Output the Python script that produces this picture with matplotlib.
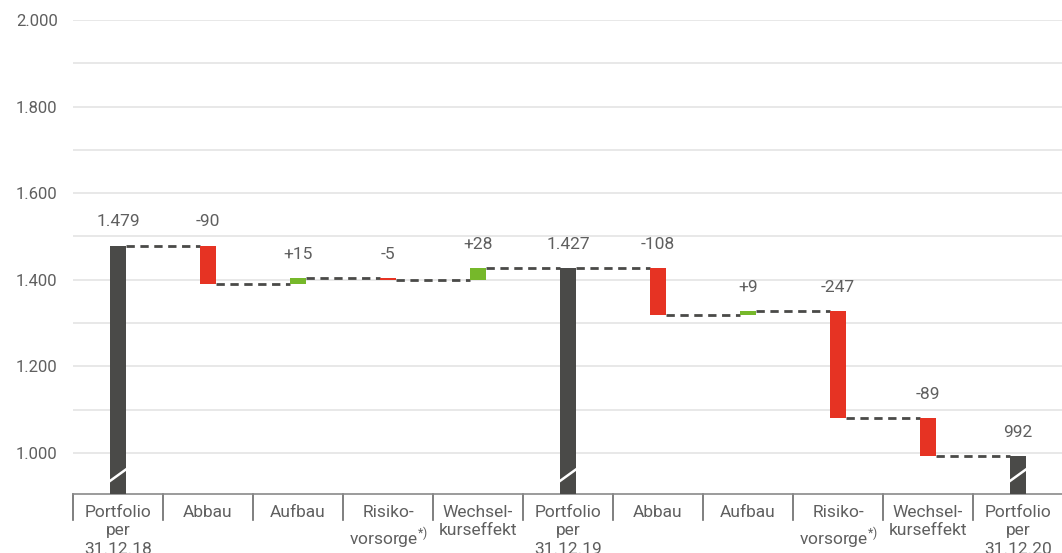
import matplotlib.pyplot as plt
import numpy as np

categories = ["Portfolio\nper\n31.12.18", "Abbau", "Aufbau", "Risiko-\nvorsorge$^{\\mathregular{*)}}$",
              "Wechsel-\nkurseffekt", "Portfolio\nper\n31.12.19", "Abbau", "Aufbau",
              "Risiko-\nvorsorge$^{\\mathregular{*)}}$", "Wechsel-\nkurseffekt", "Portfolio\nper\n31.12.20"]
values = [1479, -90, 15, -5, 28, 1427, -108, 9, -247, -89, 992]
is_total = [True, False, False, False, False, True, False, False, False, False, True]

plt.rcParams['font.family'] = ['Roboto', 'DejaVu Sans']
txt = '#5f5f5f'
dark = '#4a4a48'
red = '#e63323'
green = '#76b82a'

fig = plt.figure(figsize=(10.62, 5.53), dpi=100)
ax = fig.add_axes([73 / 1062, 1 - 494 / 553, 990 / 1062, 474 / 553])

ymin, ymax = 905, 2000
w = 0.18
x = np.arange(len(values))

bottoms, tops = [], []
level = 0
for v, t in zip(values, is_total):
    if t:
        level = v
        bottoms.append(ymin)
        tops.append(v)
    else:
        new = level + v
        bottoms.append(min(level, new))
        tops.append(max(level, new))
        level = new

colors = [dark if t else (green if v > 0 else red) for v, t in zip(values, is_total)]
ax.bar(x, np.array(tops) - np.array(bottoms), bottom=bottoms, width=w, color=colors, zorder=3)

# connectors
level = 0
for i, (v, t) in enumerate(zip(values, is_total)):
    level = v if t else level + v
    if i < len(values) - 1:
        ax.plot([i + w / 2, i + 1 - w / 2], [level, level], color=dark, lw=2,
                dashes=(3, 2), zorder=2)

# labels
for i, (v, t) in enumerate(zip(values, is_total)):
    if t:
        s = f"{v:,}".replace(",", ".")
    else:
        s = f"{v:+d}"
    ax.annotate(s, (i, tops[i]), xytext=(0, 17), textcoords='offset points',
                ha='center', va='center', fontsize=12.5, color=txt)

# break marks on totals
for i, t in enumerate(is_total):
    if t:
        ax.plot([i - w / 2, i + w / 2], [935, 962], color='white', lw=1.8, zorder=4)

ax.set_xlim(-0.5, len(values) - 0.5)
ax.set_ylim(ymin, ymax)
for g in range(1000, 2001, 100):
    ax.axhline(g, color='#e6e6e6', lw=1.3, zorder=0)
ax.set_yticks(range(1000, 2001, 200))
ax.set_yticklabels([f"{v:,}".replace(",", ".") for v in range(1000, 2001, 200)])
ax.tick_params(axis='y', length=0, pad=11, labelsize=12, labelcolor=txt)
ax.set_xticks([])
for s in ['top', 'right', 'left']:
    ax.spines[s].set_visible(False)
ax.spines['bottom'].set_color('#8a8a8a')
ax.spines['bottom'].set_linewidth(1.2)

# category cells
for i in range(len(values)):
    ax.plot([i - 0.5, i - 0.5], [ymin, ymin - 60], color='#6a6a6a', lw=1.2, clip_on=False)
    ax.text(i, ymin - 25, categories[i], ha='center', va='top', fontsize=12.5,
            color=txt, linespacing=1.3, clip_on=False)

fig.savefig('out.png', dpi=100)
